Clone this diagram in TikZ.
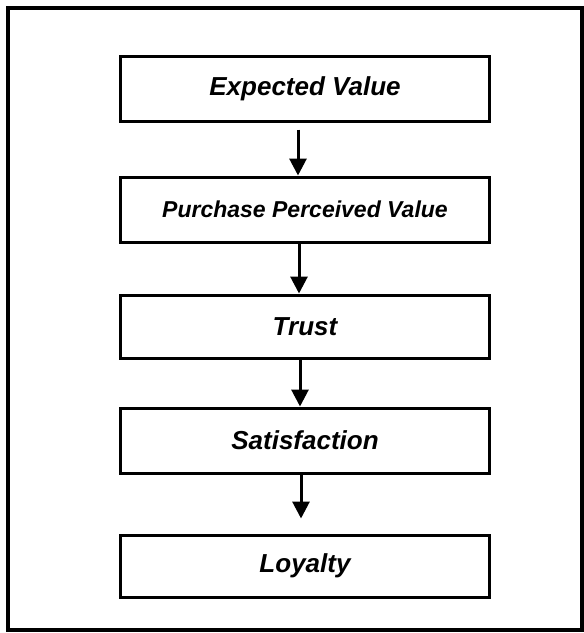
\documentclass[tikz,border=0pt]{standalone}
\usepackage{fontspec}
\setmainfont{Liberation Sans}
\usetikzlibrary{arrows.meta}

\begin{document}
\begin{tikzpicture}[x=1pt, y=-1pt,
		stagebox/.style={draw, line width=3pt, minimum width=369pt, inner sep=0pt, font=\bfseries\itshape\fontsize{26}{30}\selectfont},
		flow/.style={line width=3pt, -{Triangle[width=17pt, length=17pt]}}]
		% The page and the outer frame
		\useasboundingbox (0, 0) rectangle (584, 633);
		\draw [line width=3.5pt] (8, 8) rectangle (582, 630);
		% The five stages, top to bottom
		\node [stagebox, minimum height=65pt] (ev) at (305, 88.5) {Expected Value};
		\node [stagebox, minimum height=65pt, font=\bfseries\itshape\fontsize{23}{27}\selectfont] (ppv) at (305, 209.5) {Purchase Perceived Value};
		\node [stagebox, minimum height=63pt] (tr) at (305, 326.5) {Trust};
		\node [stagebox, minimum height=65pt] (sat) at (305, 440.5) {Satisfaction};
		\node [stagebox, minimum height=62pt] (loy) at (305, 566) {Loyalty};
		% Arrows between the stages
		\draw [flow] ([xshift=-7pt, yshift=-7pt]ev.south) -- ([xshift=-7pt]ppv.north);
		\draw [flow] ([xshift=-6pt]ppv.south) -- ([xshift=-6pt]tr.north);
		\draw [flow] ([xshift=-5pt]tr.south) -- ([xshift=-5pt]sat.north);
		\draw [flow] ([xshift=-4pt]sat.south) -- ([xshift=-4pt, yshift=15pt]loy.north);
	\end{tikzpicture}
\end{document}
